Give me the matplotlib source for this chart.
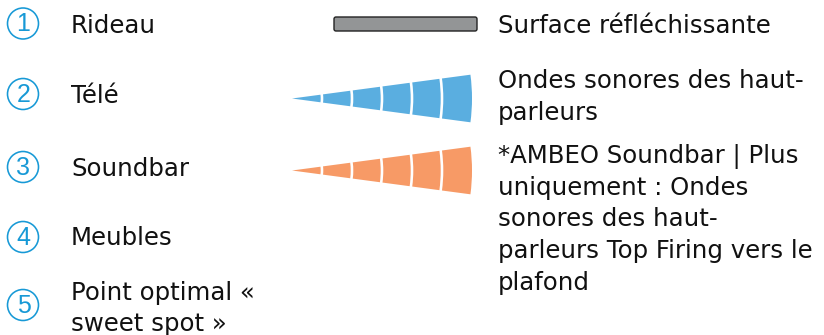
import matplotlib
matplotlib.use("Agg")
import matplotlib.pyplot as plt
from matplotlib.patches import Circle, Wedge, FancyBboxPatch

# ---- data ----
numbers = ["1", "2", "3", "4", "5"]
left_labels = [["Rideau"], ["Télé"], ["Soundbar"], ["Meubles"],
               ["Point optimal «", "sweet spot »"]]
right_labels = [
    ["Surface réfléchissante"],
    ["Ondes sonores des haut-", "parleurs"],
    ["*AMBEO Soundbar | Plus", "uniquement : Ondes", "sonores des haut-",
     "parleurs Top Firing vers le", "plafond"],
]
wave_segments = 6

FONT = "DejaVu Sans"
FS = 17.6
TXT = "#111111"
BLUE_RING = "#1799d6"
WAVE_BLUE = "#5aaee0"
WAVE_ORANGE = "#f79a66"

fig = plt.figure(figsize=(8.24, 3.35), dpi=100)
ax = fig.add_axes([0, 0, 1, 1])
ax.set_xlim(0, 824)
ax.set_ylim(335, 0)
ax.axis("off")

def draw_lines(x, first_baseline, lines, step):
    for k, line in enumerate(lines):
        ax.text(x, first_baseline + k * step, line, color=TXT, fontsize=FS,
                family=FONT, ha="left", va="baseline")

# left column: circled numbers + labels
circle_y = [23.5, 94, 167, 237, 305]
label_base = [33, 103, 176, 245, 300]
for n, lab, cy, lb in zip(numbers, left_labels, circle_y, label_base):
    ax.add_patch(Circle((23, cy), 15.5, fill=False, ec=BLUE_RING, lw=1.15))
    ax.text(23.5, cy + 0.8, n, color=BLUE_RING, fontsize=18, family="Liberation Sans",
            ha="center", va="center")
    draw_lines(71, lb, lab, 30.7)

# reflective surface bar
ax.add_patch(FancyBboxPatch((334, 17), 143, 14, boxstyle="round,pad=0,rounding_size=2",
                            fc="#939596", ec="#222222", lw=1.0))

# sound waves
def draw_wave(cy, color):
    tip = 292
    R = 180
    half = 7.6
    step = R / wave_segments
    gap = 2.6
    for i in range(wave_segments):
        r_in = i * step + (gap / 2 if i > 0 else 0)
        r_out = (i + 1) * step - (gap / 2 if i < wave_segments - 1 else 0)
        ax.add_patch(Wedge((tip, cy), r_out, -half, half, width=r_out - r_in,
                           fc=color, ec="none"))

draw_wave(98.5, WAVE_BLUE)
draw_wave(170.5, WAVE_ORANGE)

# right column text
right_base = [33, 88.5, 163.3]
for lab, b in zip(right_labels, right_base):
    draw_lines(498, b, lab, 31.6)

fig.savefig("out.png", dpi=100)
